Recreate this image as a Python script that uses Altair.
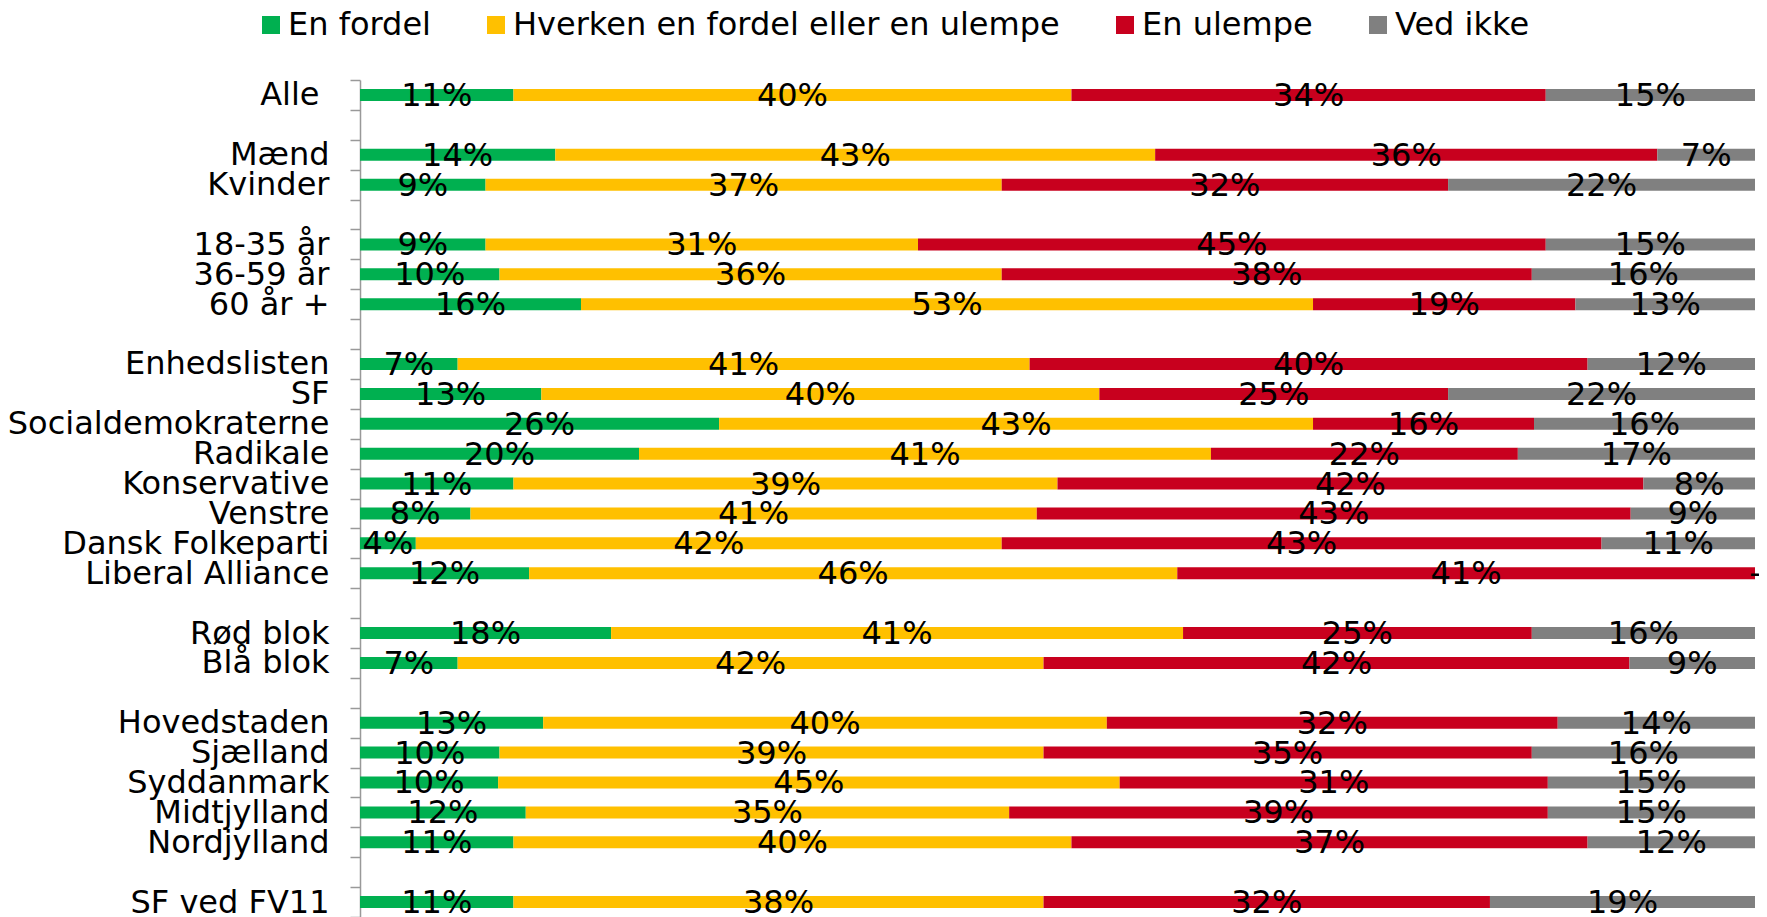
import altair as alt
import pandas as pd

rows = ["Alle", None, "Mænd", "Kvinder", None, "18-35 år", "36-59 år", "60 år +", None,
        "Enhedslisten", "SF", "Socialdemokraterne", "Radikale", "Konservative", "Venstre",
        "Dansk Folkeparti", "Liberal Alliance", None, "Rød blok", "Blå blok", None,
        "Hovedstaden", "Sjælland", "Syddanmark", "Midtjylland", "Nordjylland", None, "SF ved FV11"]

series = ["En fordel", "Hverken en fordel eller en ulempe", "En ulempe", "Ved ikke"]
colors = ["#00B050", "#FFC000", "#C8001E", "#808080"]

fordel  = [11, 14, 9, 9, 10, 16, 7, 13, 26, 20, 11, 8, 4, 12, 18, 7, 13, 10, 10, 12, 11, 11]
hverken = [40, 43, 37, 31, 36, 53, 41, 40, 43, 41, 39, 41, 42, 46, 41, 42, 40, 39, 45, 35, 40, 38]
ulempe  = [34, 36, 32, 45, 38, 19, 40, 25, 16, 22, 42, 43, 43, 41, 25, 42, 32, 35, 31, 39, 37, 32]
vedikke = [15, 7, 22, 15, 16, 13, 12, 22, 16, 17, 8, 9, 11, 0, 16, 9, 14, 16, 15, 15, 12, 19]

# unique keys for rows (blank rows become distinct whitespace strings)
keys = []
k = 0
for r in rows:
    if r is None:
        k += 1
        keys.append(" " * k)
    else:
        keys.append(r)

cats = [r for r in rows if r is not None]
recs = []
for s_i, (s, vals) in enumerate(zip(series, [fordel, hverken, ulempe, vedikke])):
    for c, v in zip(cats, vals):
        recs.append({"cat": c, "series": s, "order": s_i, "value": v})
df = pd.DataFrame(recs)

FONT = "DejaVu Sans"
FS = 32

base = alt.Chart(df).transform_stack(
    stack="value", groupby=["cat"], as_=["x0", "x1"], offset="normalize",
    sort=[alt.SortField("order", order="ascending")]
).transform_calculate(
    xm="(datum.x0 + datum.x1) / 2",
    lbl="datum.value == 0 ? '-' : datum.value + '%'"
)

yscale = alt.Scale(domain=keys, paddingInner=0, paddingOuter=0)

yenc = alt.Y("cat:N", title=None, scale=yscale,
             axis=alt.Axis(tickBand="extent", tickSize=10,
                           labelPadding=alt.condition("datum.value == 'Alle'", alt.value(31), alt.value(21)),
                           labelFont=FONT, labelFontSize=FS, labelColor="black",
                           labelLimit=600, domainColor="#999999", tickColor="#999999",
                           domainWidth=1.5, tickWidth=1.5, grid=False))

xscale = alt.Scale(domain=[0, 1], nice=False, zero=True)

bars = base.mark_bar(size=12).encode(
    x=alt.X("x0:Q", scale=xscale, axis=None),
    x2="x1:Q",
    y=yenc,
    color=alt.Color("series:N",
                    scale=alt.Scale(domain=series, range=colors),
                    sort=series,
                    legend=alt.Legend(title=None, orient="none", direction="horizontal",
                                      legendX=-105, legendY=-71,
                                      labelFont=FONT, labelFontSize=FS, labelColor="black",
                                      labelLimit=1000, symbolType="square", symbolSize=324,
                                      symbolStrokeWidth=0, symbolOpacity=1,
                                      labelOffset=1, columnPadding=49, padding=0)),
)

texts = base.mark_text(font=FONT, fontSize=FS, baseline="middle", align="center",
                       color="black", dy=1).encode(
    x=alt.X("xm:Q", scale=xscale, axis=None),
    y=alt.Y("cat:N", scale=yscale),
    text="lbl:N",
)

chart = alt.layer(bars, texts).properties(
    width=1395, height=837,
    autosize=alt.AutoSizeParams(type="none"),
    padding={"left": 352, "top": 72, "right": 4, "bottom": 10},
).configure_view(stroke=None)

chart.save("out.html", embed_options={"renderer": "svg", "actions": False})
